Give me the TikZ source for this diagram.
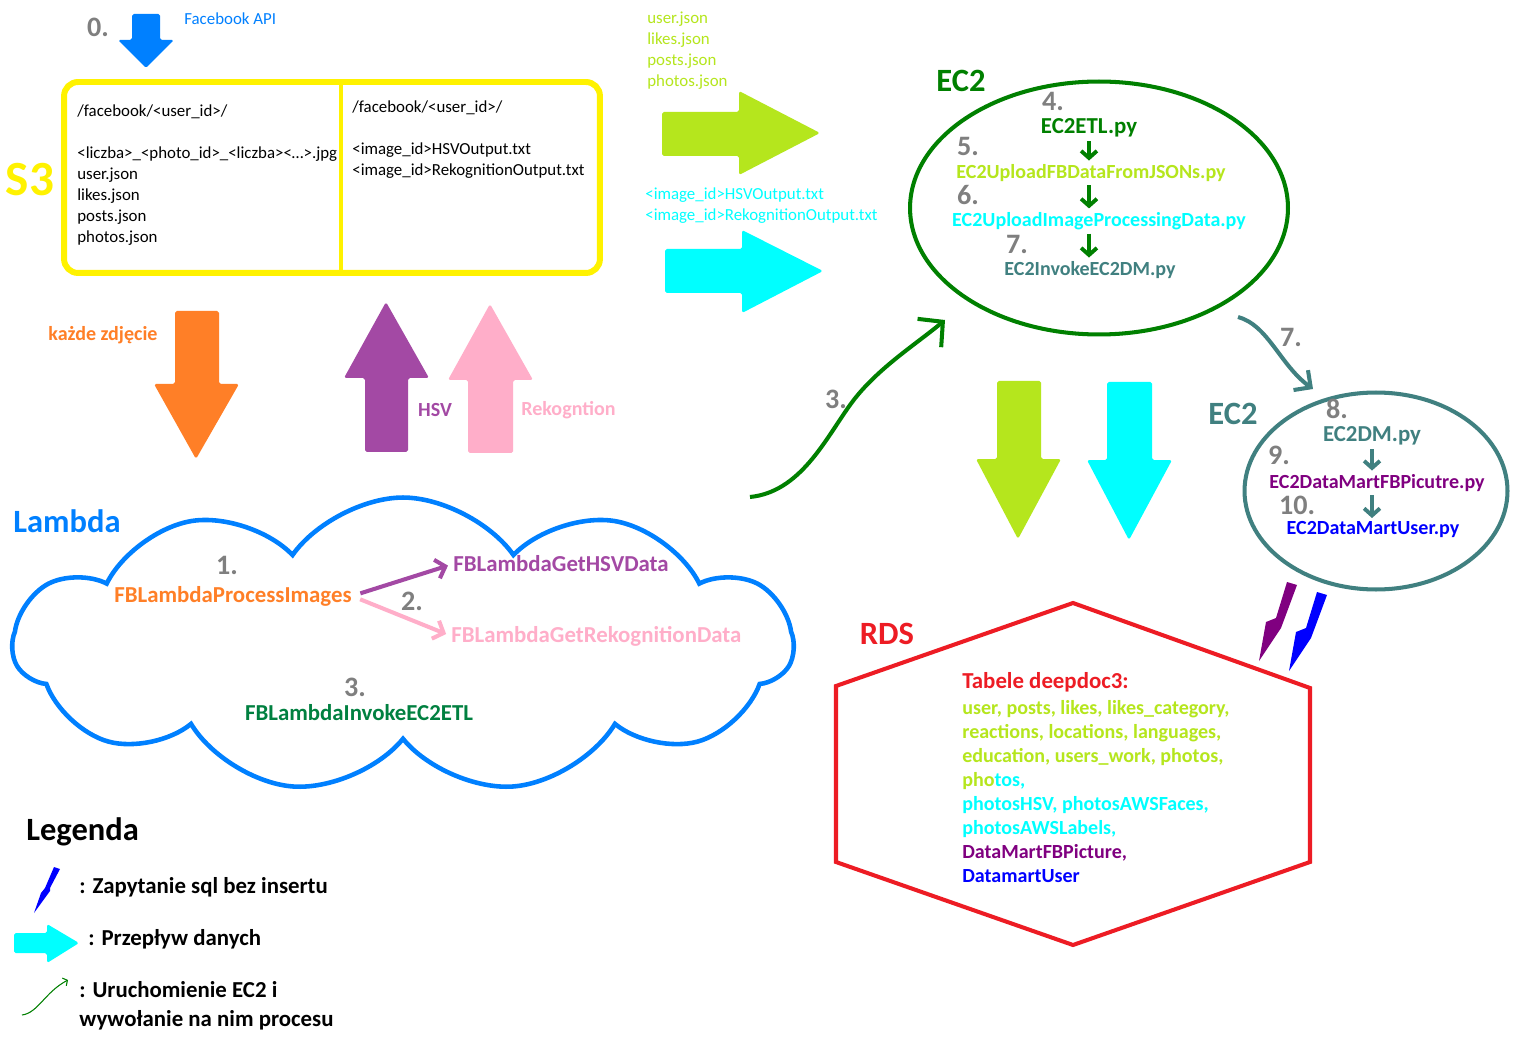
\documentclass[tikz,border=0pt]{standalone}
\usepackage{fontspec}
\setmainfont{Carlito}
\usetikzlibrary{arrows.meta,shapes.geometric,shapes.symbols,positioning}

\definecolor{s3yellow}{RGB}{255,242,0}
\definecolor{fbblue}{RGB}{0,128,255}
\definecolor{limeg}{RGB}{181,230,29}
\definecolor{aqua}{RGB}{0,255,255}
\definecolor{orangep}{RGB}{255,127,39}
\definecolor{purplep}{RGB}{163,73,164}
\definecolor{rosep}{RGB}{255,174,201}
\definecolor{ec2green}{RGB}{0,128,0}
\definecolor{etlgreen}{RGB}{0,128,64}
\definecolor{tealp}{RGB}{64,128,128}
\definecolor{redp}{RGB}{237,28,36}
\definecolor{grayp}{RGB}{127,127,127}
\definecolor{dmpurple}{RGB}{128,0,128}
\definecolor{dmblue}{RGB}{0,0,255}

\begin{document}
\begin{tikzpicture}[x=0.02cm,y=-0.02cm,
    num/.style={text=grayp,font=\fontsize{16}{16}\selectfont\bfseries,inner sep=0},
    head/.style={font=\fontsize{18.5}{18.5}\selectfont\bfseries,inner sep=0},
    big/.style={font=\fontsize{13}{15}\selectfont\bfseries,inner sep=0},
    mid/.style={font=\fontsize{11.4}{13.6}\selectfont\bfseries,inner sep=0},
    plain/.style={font=\fontsize{9.6}{11.9}\selectfont,inner sep=0,align=left},
    downarr/.style={-{Straight Barb[length=4pt,width=9pt]},line width=2.2pt,shorten <=2pt,shorten >=2pt},
    flow/.style={-{Straight Barb[length=5pt,width=11pt]},line width=2.3pt,shorten <=5pt,shorten >=3pt},
    block/.style={rounded corners=1pt}]
  \path[use as bounding box,fill=white] (0,0) rectangle (1517,1043);

  % S3
  \fill[block,fbblue] (132,14) -- (160,14) -- (160,40) -- (174,40) -- (146,68) -- (118,40) -- (132,40) -- cycle;
  \node[num] (n0) at (98,27) {0.};
  \node[plain,text=fbblue,anchor=west] (fbapi) at (184,19) {Facebook API};
  \node[head,text=s3yellow,font=\fontsize{28}{28}\selectfont\bfseries] (s3lbl) at (30,180) {S3};
  \node[draw=s3yellow,line width=3.4pt,rounded corners=8pt,minimum width=10.72cm,minimum height=3.82cm] (s3) at (332,177.5) {};
  \draw[s3yellow,line width=2.3pt] (341,84) -- (341,271);
  \node[plain,anchor=west] (s3left) at (77,175) {/facebook/<user\_id>/\\[11.9pt]
    <liczba>\_<photo\_id>\_<liczba><…>.jpg\\ user.json\\ likes.json\\ posts.json\\ photos.json};
  \node[plain,anchor=west] (s3right) at (352,139.5) {/facebook/<user\_id>/\\[11.9pt]
    <image\_id>HSVOutput.txt\\ <image\_id>RekognitionOutput.txt};

  % flows to EC2
  \node[plain,text=limeg,anchor=west] (jsons) at (647,50.5) {user.json\\ likes.json\\ posts.json\\ photos.json};
  \fill[block,limeg] (662,112) -- (739,112) -- (739,91) -- (820,133) -- (739,175) -- (739,156) -- (662,156) -- cycle;
  \node[plain,text=aqua,anchor=west] (txts) at (645,205.5) {<image\_id>HSVOutput.txt\\ <image\_id>RekognitionOutput.txt};
  \fill[block,aqua] (665,249) -- (742,249) -- (742,230) -- (823,271) -- (742,313) -- (742,293) -- (665,293) -- cycle;

  % EC2
  \node[head,text=ec2green] (ec2lbl) at (961,81) {EC2};
  \node[ellipse,draw=ec2green,line width=2.3pt,minimum width=7.56cm,minimum height=5.06cm] (ec2) at (1099,208) {};
  \node[num] (n4) at (1053,101) {4.};
  \node[big,text=ec2green] (etl) at (1089,128) {EC2ETL.py};
  \node[num] (n5) at (968,146) {5.};
  \node[mid,text=limeg] (upfb) at (1091,173) {EC2UploadFBDataFromJSONs.py};
  \node[num] (n6) at (968,195) {6.};
  \node[mid,text=aqua] (upimg) at (1099,221) {EC2UploadImageProcessingData.py};
  \node[num] (n7) at (1017,244) {7.};
  \node[mid,text=tealp] (invdm) at (1090,270) {EC2InvokeEC2DM.py};
  \draw[downarr,ec2green] (etl.south) -- (etl.south |- upfb.north);
  \draw[downarr,ec2green] (etl.south |- upfb.south) -- (etl.south |- upimg.north);
  \draw[downarr,ec2green] (etl.south |- upimg.south) -- (etl.south |- invdm.north);

  % EC2 data mart
  \coordinate (c7a) at (1238,317);
  \coordinate (c7b) at (1313,389);
  \draw[tealp,line width=2.3pt,-{Straight Barb[length=7pt,width=14pt]}] (c7a) .. controls (1268,325) and (1280,365) .. (c7b);
  \node[num] (n7b) at (1291,337) {7.};
  \node[head,text=tealp] (ec2blbl) at (1233,414) {EC2};
  \node[ellipse,draw=tealp,line width=2.3pt,minimum width=5.26cm,minimum height=3.94cm] (ec2dm) at (1376,491) {};
  \node[num] (n8) at (1337,409) {8.};
  \node[big,text=tealp] (dm) at (1372,436) {EC2DM.py};
  \node[num] (n9) at (1279,455) {9.};
  \node[mid,text=dmpurple] (dmpic) at (1377,483) {EC2DataMartFBPicutre.py};
  \node[num] (n10) at (1297,505) {10.};
  \node[mid,text=dmblue] (dmuser) at (1373,530) {EC2DataMartUser.py};
  \draw[downarr,tealp] (dm.south) -- (dm.south |- dmpic.north);
  \draw[downarr,tealp] (dm.south |- dmpic.south) -- (dm.south |- dmuser.north);

  % S3 <-> Lambda
  \fill[block,orangep] (175,311) -- (219,311) -- (219,384) -- (239,384) -- (196,459) -- (154,384) -- (175,384) -- cycle;
  \node[mid,text=orangep] (kazde) at (103,335) {każde zdjęcie};
  \fill[block,purplep] (365,452) -- (408,452) -- (408,378) -- (429,378) -- (386,302) -- (344,378) -- (365,378) -- cycle;
  \node[mid,text=purplep] (hsv) at (435,410) {HSV};
  \fill[block,rosep] (468,453) -- (513,453) -- (513,380) -- (533,380) -- (490,304) -- (448,380) -- (468,380) -- cycle;
  \node[mid,text=rosep,anchor=west] (rek) at (521,410) {Rekogntion};

  % Lambda -> EC2
  \coordinate (c3a) at (750,497);
  \coordinate (c3b) at (945,320);
  \draw[ec2green,line width=2.3pt,-{Straight Barb[length=10pt,width=21pt]}] (c3a) .. controls (800,492) and (825,440) .. (850,405) .. controls (875,370) and (915,345) .. (c3b);
  \node[num] (n3) at (836,399) {3.};

  % EC2 -> RDS
  \fill[block,limeg] (997,381) -- (1041,381) -- (1041,459) -- (1061,459) -- (1018,539) -- (976,459) -- (997,459) -- cycle;
  \fill[block,aqua] (1107,382) -- (1152,382) -- (1152,460) -- (1172,460) -- (1129,540) -- (1087,460) -- (1107,460) -- cycle;

  % Lambda
  \node[head,text=fbblue] (lambdalbl) at (67,521) {Lambda};
  \node[cloud,draw=fbblue,line width=2.6pt,cloud puffs=11,cloud puff arc=110,aspect=2.6,
        minimum width=15.6cm,minimum height=5.9cm] (lambda) at (403,645) {};
  \node[num] (n1) at (227,565) {1.};
  \node[big,text=orangep] (procimg) at (233,596) {FBLambdaProcessImages};
  \node[big,text=purplep,anchor=west] (gethsv) at (453,564) {FBLambdaGetHSVData};
  \node[num] (n2) at (412,601) {2.};
  \node[big,text=rosep,anchor=west] (getrek) at (451,636) {FBLambdaGetRekognitionData};
  \node[num] (n3b) at (355,687) {3.};
  \node[big,text=etlgreen] (invetl) at (359,713) {FBLambdaInvokeEC2ETL};
  \draw[flow,purplep] (procimg.east) -- (gethsv.west);
  \draw[flow,rosep] (procimg.east) -- (getrek.west);

  % RDS
  \draw[redp,line width=2.3pt] (1073,603) -- (1310,688) -- (1310,862) -- (1073,945) -- (836,862) -- (836,686) -- cycle;
  \node[head,text=redp] (rdslbl) at (887,634) {RDS};
  \node[big,text=redp,anchor=west] (tabele) at (962,682) {Tabele deepdoc3:};
  \node[mid,text=limeg,anchor=west,align=left] (tables) at (962,791.5) {user, posts, likes, likes\_category,\\
    reactions, locations, languages,\\ education, users\_work, photos,\\ pho\textcolor{aqua}{tos,}\\
    \textcolor{aqua}{photosHSV, photosAWSFaces,}\\ \textcolor{aqua}{photosAWSLabels,}\\
    \textcolor{dmpurple}{DataMartFBPicture,}\\ \textcolor{dmblue}{DatamartUser}};
  \fill[dmpurple] (1287,582) -- (1297,585) -- (1284,620) -- (1281,628) -- (1259,661) -- (1266,622) -- (1276,618) -- cycle;
  \fill[dmblue] (1317,592) -- (1327,595) -- (1314,630) -- (1311,638) -- (1289,671) -- (1296,632) -- (1306,628) -- cycle;

  % Legenda
  \node[head,anchor=west] (legenda) at (26,832) {Legenda};
  \fill[dmblue] (54,867) -- (60,869) -- (50,888) -- (50,891) -- (34,913) -- (41,893) -- (45,888) -- cycle;
  \node[big,anchor=west] (leg1) at (79,887) {: Zapytanie sql bez insertu};
  \fill[block,aqua] (14,933) -- (47,933) -- (47,924) -- (79,943) -- (47,963) -- (47,953) -- (14,953) -- cycle;
  \node[big,anchor=west] (leg2) at (88,939) {: Przepływ danych};
  \coordinate (lga) at (22,1015);
  \coordinate (lgb) at (68,980);
  \draw[ec2green,line width=0.6pt,-{Straight Barb[length=2pt,width=5pt]}] (lga) .. controls (38,1013) and (45,992) .. (lgb);
  \node[big,anchor=west,align=left,font=\fontsize{13}{16.4}\selectfont\bfseries] (leg3) at (79,1005.5) {: Uruchomienie EC2 i\\ wywołanie na nim procesu};
\end{tikzpicture}
\end{document}
